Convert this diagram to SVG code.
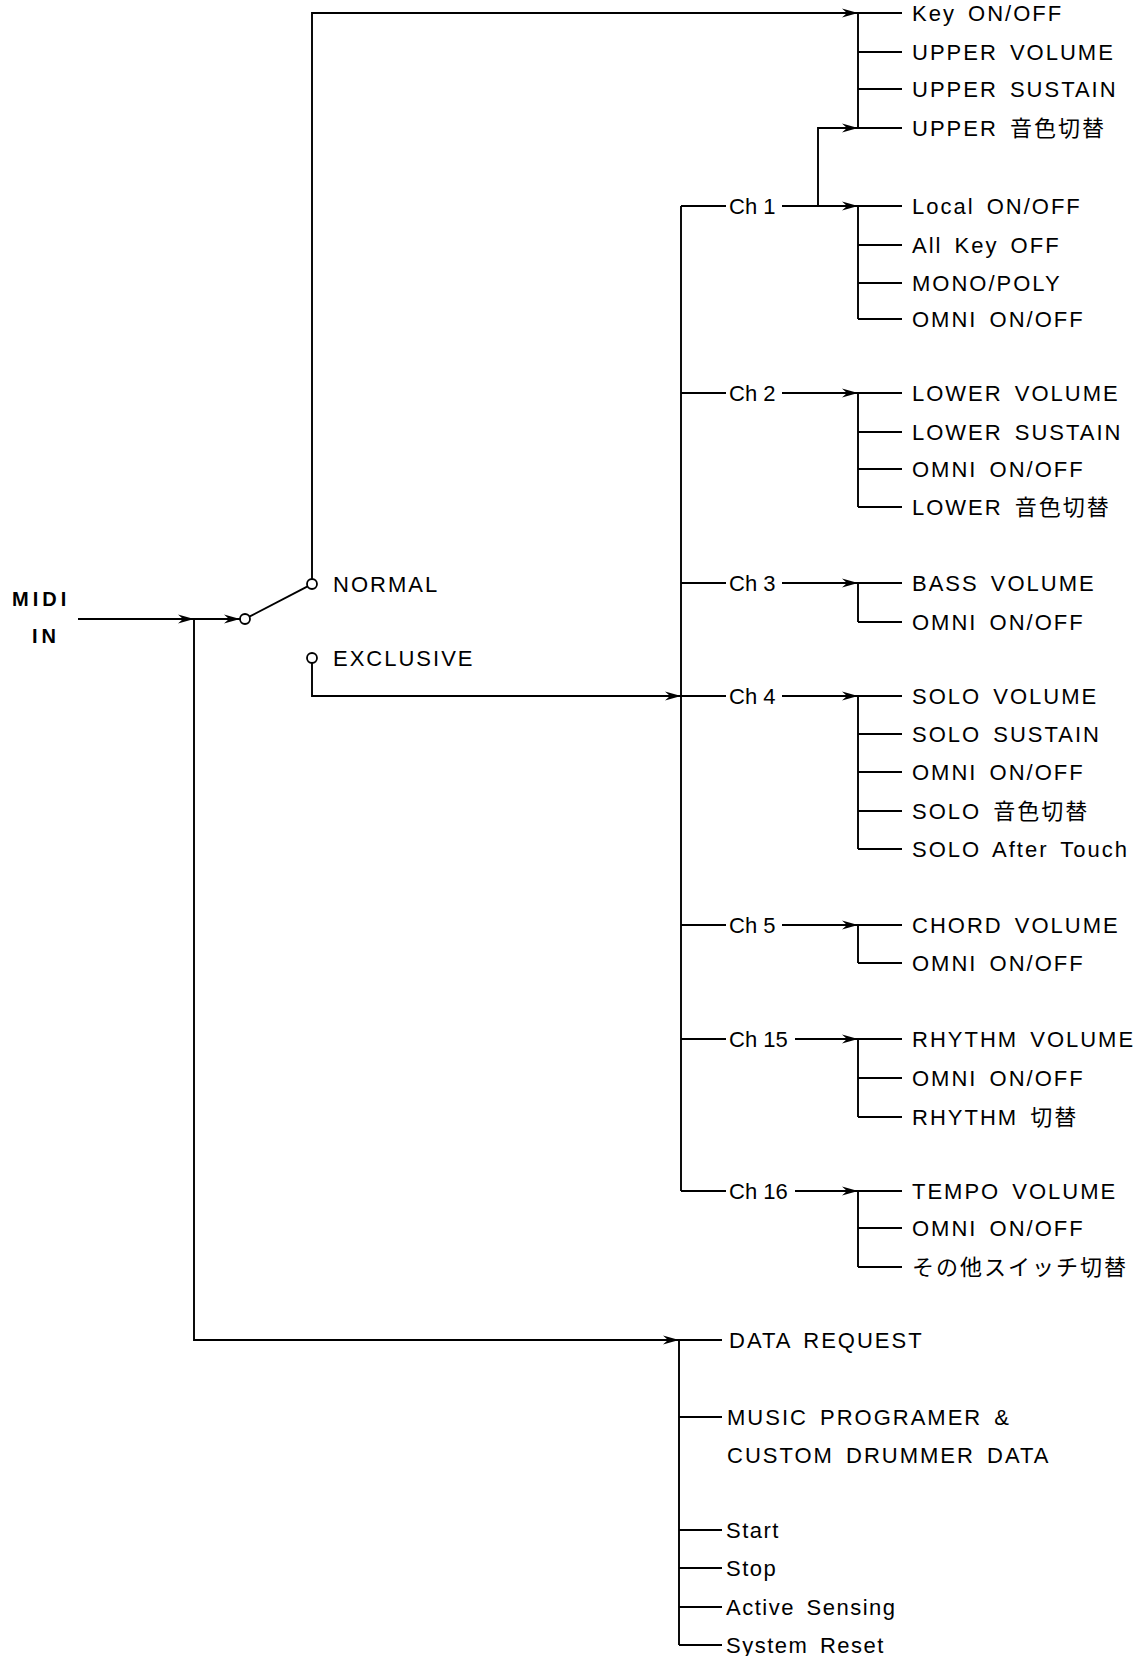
<svg xmlns="http://www.w3.org/2000/svg" width="1136" height="1656" viewBox="0 0 1136 1656">
<defs>
<style>
.c{fill:none;stroke:#000;stroke-width:1.9}
.t{font-family:"Liberation Sans",Arial,"Noto Sans CJK JP",sans-serif;font-size:22px;letter-spacing:2px;word-spacing:4px;fill:#000}
.s{letter-spacing:1.5px}
.ch{font-family:"Liberation Sans",Arial,sans-serif;font-size:22px;fill:#000}
.b{font-family:"Liberation Sans",Arial,sans-serif;font-size:20px;font-weight:bold;letter-spacing:4px;fill:#000}
.o{fill:#fff;stroke:#000;stroke-width:1.8}
</style>
<marker id="ar" markerUnits="userSpaceOnUse" markerWidth="18" markerHeight="12" refX="16" refY="6" orient="auto">
<path d="M0,1.5 L16,6 L0,10.5 L5,6 Z" fill="#000"/>
</marker>
</defs>
<rect width="1136" height="1656" fill="#fff"/>
<g id="connectors">
<path class="c" d="M78,619 H194" marker-end="url(#ar)"/>
<path class="c" d="M194,619 H240" marker-end="url(#ar)"/>
<path class="c" d="M194,619 V1340 H679" marker-end="url(#ar)"/>
<path class="c" d="M249.4,616.7 L307.6,586.3"/>
<path class="c" d="M312,579 V13 H858" marker-end="url(#ar)"/>
<path class="c" d="M312,663 V696 H681" marker-end="url(#ar)"/>
<path class="c" d="M681,206 V1191"/>
<path class="c" d="M681,206 H726 M681,393 H726 M681,583 H726 M681,696 H726 M681,925 H726 M681,1039 H726 M681,1191 H726"/>
<path class="c" d="M782,206 H858" marker-end="url(#ar)"/>
<path class="c" d="M818,206 V128 H858" marker-end="url(#ar)"/>
<path class="c" d="M782,393 H858" marker-end="url(#ar)"/>
<path class="c" d="M782,583 H858" marker-end="url(#ar)"/>
<path class="c" d="M782,696 H858" marker-end="url(#ar)"/>
<path class="c" d="M782,925 H858" marker-end="url(#ar)"/>
<path class="c" d="M795,1039 H858" marker-end="url(#ar)"/>
<path class="c" d="M795,1191 H858" marker-end="url(#ar)"/>
<path class="c" d="M858,13 V128 M858,13 H902 M858,52 H902 M858,89 H902 M858,128 H902"/>
<path class="c" d="M858,206 V319 M858,206 H902 M858,245 H902 M858,283 H902 M858,319 H902"/>
<path class="c" d="M858,393 V507 M858,393 H902 M858,432 H902 M858,469 H902 M858,507 H902"/>
<path class="c" d="M858,583 V622 M858,583 H902 M858,622 H902"/>
<path class="c" d="M858,696 V849 M858,696 H902 M858,734 H902 M858,772 H902 M858,811 H902 M858,849 H902"/>
<path class="c" d="M858,925 V963 M858,925 H902 M858,963 H902"/>
<path class="c" d="M858,1039 V1117 M858,1039 H902 M858,1078 H902 M858,1117 H902"/>
<path class="c" d="M858,1191 V1267 M858,1191 H902 M858,1228 H902 M858,1267 H902"/>
<path class="c" d="M679,1340 V1645 M679,1340 H722 M679,1417 H722 M679,1530 H722 M679,1568 H722 M679,1607 H722 M679,1645 H722"/>
</g>
<g id="midi-in"><text class="b" x="12" y="606">MIDI</text><text class="b" x="32" y="643">IN</text></g>
<g id="switch-pivot"><circle class="o" cx="245" cy="619" r="5"/></g>
<g id="normal"><circle class="o" cx="312" cy="584" r="5"/><text class="t" x="333" y="592">NORMAL</text></g>
<g id="exclusive"><circle class="o" cx="312" cy="658" r="5"/><text class="t" x="333" y="666">EXCLUSIVE</text></g>
<g id="ch1"><text class="ch" x="729" y="214">Ch 1</text></g>
<g id="ch2"><text class="ch" x="729" y="401">Ch 2</text></g>
<g id="ch3"><text class="ch" x="729" y="591">Ch 3</text></g>
<g id="ch4"><text class="ch" x="729" y="704">Ch 4</text></g>
<g id="ch5"><text class="ch" x="729" y="933">Ch 5</text></g>
<g id="ch15"><text class="ch" x="729" y="1047">Ch 15</text></g>
<g id="ch16"><text class="ch" x="729" y="1199">Ch 16</text></g>
<g id="upper-group">
<text class="t" x="912" y="21">Key ON/OFF</text>
<text class="t" x="912" y="60">UPPER VOLUME</text>
<text class="t" x="912" y="97">UPPER SUSTAIN</text>
<text class="t" x="912" y="136">UPPER 音色切替</text>
</g>
<g id="ch1-group">
<text class="t" x="912" y="214">Local ON/OFF</text>
<text class="t" x="912" y="253">All Key OFF</text>
<text class="t" x="912" y="291">MONO/POLY</text>
<text class="t" x="912" y="327">OMNI ON/OFF</text>
</g>
<g id="ch2-group">
<text class="t" x="912" y="401">LOWER VOLUME</text>
<text class="t" x="912" y="440">LOWER SUSTAIN</text>
<text class="t" x="912" y="477">OMNI ON/OFF</text>
<text class="t" x="912" y="515">LOWER 音色切替</text>
</g>
<g id="ch3-group">
<text class="t" x="912" y="591">BASS VOLUME</text>
<text class="t" x="912" y="630">OMNI ON/OFF</text>
</g>
<g id="ch4-group">
<text class="t" x="912" y="704">SOLO VOLUME</text>
<text class="t" x="912" y="742">SOLO SUSTAIN</text>
<text class="t" x="912" y="780">OMNI ON/OFF</text>
<text class="t" x="912" y="819">SOLO 音色切替</text>
<text class="t" x="912" y="857">SOLO After Touch</text>
</g>
<g id="ch5-group">
<text class="t" x="912" y="933">CHORD VOLUME</text>
<text class="t" x="912" y="971">OMNI ON/OFF</text>
</g>
<g id="ch15-group">
<text class="t" x="912" y="1047">RHYTHM VOLUME</text>
<text class="t" x="912" y="1086">OMNI ON/OFF</text>
<text class="t" x="912" y="1125">RHYTHM 切替</text>
</g>
<g id="ch16-group">
<text class="t" x="912" y="1199">TEMPO VOLUME</text>
<text class="t" x="912" y="1236">OMNI ON/OFF</text>
<text class="t" x="912" y="1275">その他スイッチ切替</text>
</g>
<g id="system-group">
<text class="t" x="729" y="1348" word-spacing="12">DATA REQUEST</text>
<text class="t" x="727" y="1425">MUSIC PROGRAMER &amp;</text>
<text class="t" x="727" y="1463">CUSTOM DRUMMER DATA</text>
<text class="t s" x="726" y="1538">Start</text>
<text class="t s" x="726" y="1576">Stop</text>
<text class="t s" x="726" y="1615">Active Sensing</text>
<text class="t s" x="726" y="1653">System Reset</text>
</g>
</svg>
